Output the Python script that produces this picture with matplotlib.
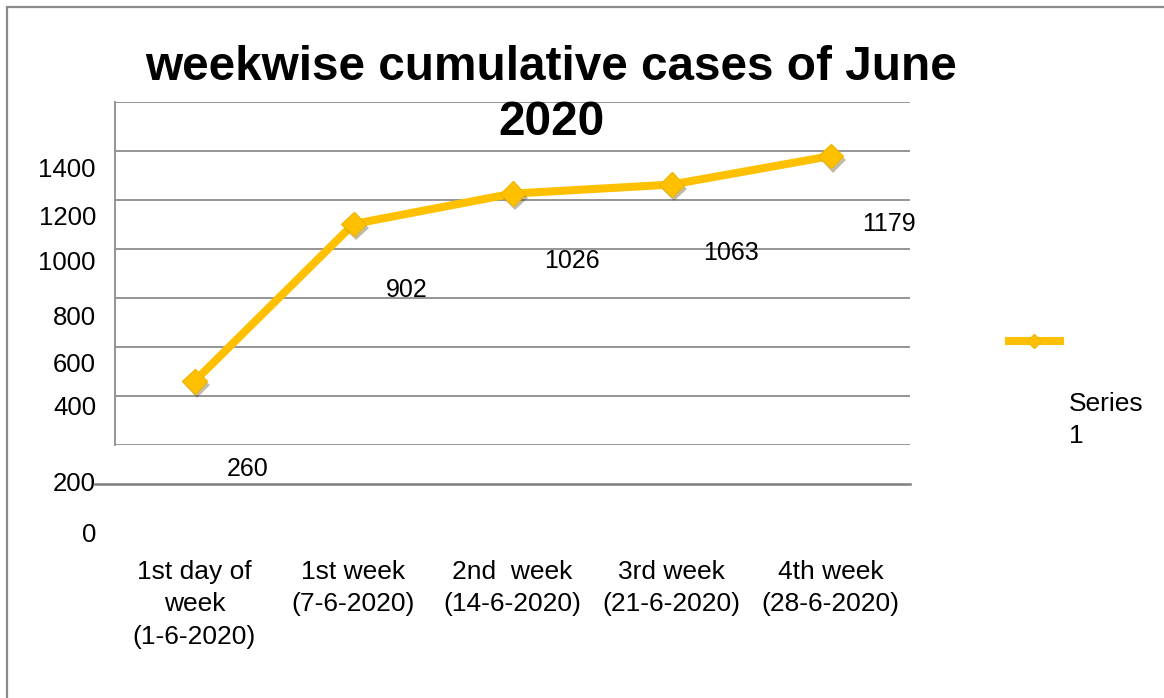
import matplotlib
matplotlib.use("Agg")
import matplotlib.pyplot as plt
import matplotlib.patheffects as pe
from matplotlib.lines import Line2D
from matplotlib.patches import Rectangle

plt.rcParams["font.family"] = ["Liberation Sans", "DejaVu Sans"]

# ── data ──────────────────────────────────────────────────────────────────────
categories = [
    "1st day of\nweek\n(1-6-2020)",
    "1st week\n(7-6-2020)",
    "2nd  week\n(14-6-2020)",
    "3rd week\n(21-6-2020)",
    "4th week\n(28-6-2020)",
]
cases = [260, 902, 1026, 1063, 1179]
ytick_labels = ["1400", "1200", "1000", "800", "600", "400", "200", "0"]
series_name = "Series\n1"
title = "weekwise cumulative cases of June\n2020"

# ── layout helpers (pixel coords of the 1164x698 canvas) ──────────────────────
W, H = 1164, 698
fx = lambda px: px / W
fy = lambda py: 1 - py / H

YELLOW = "#FFC000"
GRID = "#8c8c8c"

fig = plt.figure(figsize=(W / 100, H / 100), dpi=100, facecolor="white")

# outer chart border (only top/left visible)
fig.add_artist(Rectangle((fx(7), fy(720)), 1.2, fy(7) - fy(720), transform=fig.transFigure,
                         fill=False, edgecolor="#8a8a8a", lw=1.6))

ax = fig.add_axes([fx(115), fy(445), fx(910) - fx(115), fy(102) - fy(445)])
ax.set_xlim(-0.5, len(cases) - 0.5)
ax.set_ylim(0, 1400)

# gridlines
ax.set_yticks(range(0, 1401, 200))
ax.yaxis.grid(True, color=GRID, lw=1.3)
ax.set_axisbelow(True)
ax.tick_params(axis="y", length=0, labelleft=False)
for s in ["top", "right", "bottom"]:
    ax.spines[s].set_visible(False)
ax.spines["left"].set_color(GRID)
ax.spines["left"].set_linewidth(1.3)

# stray baseline below the plot area
ax.add_line(Line2D([-0.025, 1.0], [-39 / 343, -39 / 343], transform=ax.transAxes,
                   color="#7f7f7f", lw=1.8, clip_on=False))

# misplaced y tick labels
ytick_px = [170, 218, 263, 318, 365, 408, 484, 535]
for lab, py in zip(ytick_labels, ytick_px):
    fig.text(fx(96), fy(py), lab, ha="right", va="center", fontsize=18.5, color="black")

# x labels
x = list(range(len(cases)))
ax.set_xticks(x)
ax.set_xticklabels(categories, fontsize=19, linespacing=1.45)
ax.tick_params(axis="x", length=0, pad=82.5)

# series
ax.plot(x, cases, color=YELLOW, lw=5.8, solid_capstyle="round", zorder=3)
ax.plot(x, cases, "D", ms=12.5, mfc=YELLOW, mec="#F2B700", mew=1, zorder=4,
        path_effects=[pe.SimplePatchShadow(offset=(2, -3), alpha=0.35), pe.Normal()])

# data labels
label_dy = [-88, -66, -67, -68, -68]
for xi, v, dy in zip(x, cases, label_dy):
    ax.annotate(str(v), (xi, v), xytext=(32, dy), textcoords="offset pixels",
                ha="left", va="center", fontsize=18, color="black")

# title
fig.text(fx(551), fy(95), title, ha="center", va="center", fontsize=34.4,
         fontweight="bold", linespacing=1.28)

# legend
fig.add_artist(Line2D([fx(1009), fx(1060)], [fy(341), fy(341)], transform=fig.transFigure,
                      color=YELLOW, lw=5.8))
fig.add_artist(Line2D([fx(1034)], [fy(341)], transform=fig.transFigure, marker="D",
                      ms=7, mfc=YELLOW, mec="#F2B700", lw=0))
fig.text(fx(1069), fy(420), series_name, ha="left", va="center", fontsize=19,
         linespacing=1.45)

fig.savefig("out.png", dpi=100, facecolor="white")
